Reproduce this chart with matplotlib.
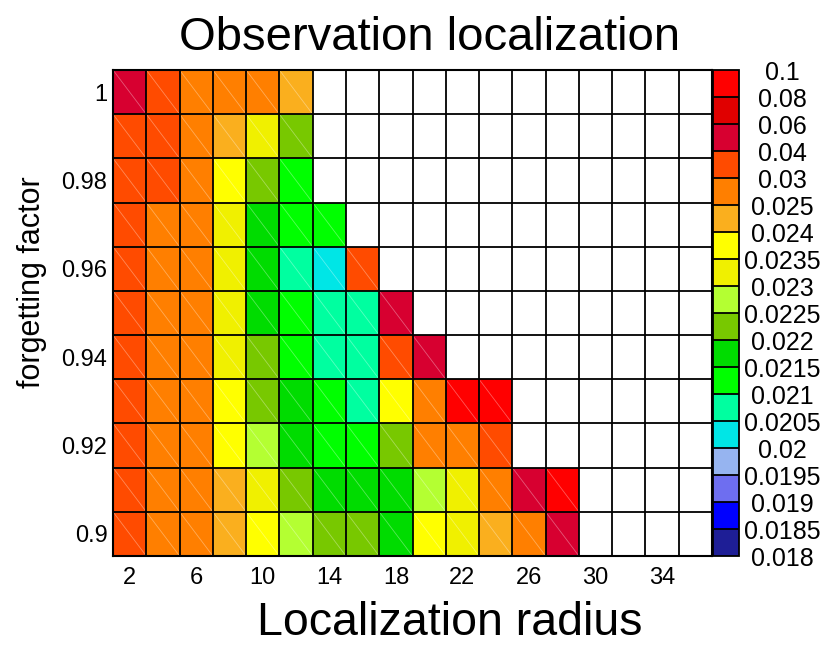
import numpy as np
import matplotlib.pyplot as plt
from matplotlib.colors import ListedColormap, BoundaryNorm

plt.rcParams['font.family'] = ['Liberation Sans', 'DejaVu Sans']

nan = np.nan

# localization radius (columns) and forgetting factor (rows)
radius = [2, 4, 6, 8, 10, 12, 14, 16, 18, 20, 22, 24, 26, 28, 30, 32, 34, 36]
factor = [0.90, 0.91, 0.92, 0.93, 0.94, 0.95, 0.96, 0.97, 0.98, 0.99, 1.00]

# error for each (factor, radius); nan = run diverged / not done
err_090 = [0.035, 0.0275, 0.0275, 0.0245, 0.02375, 0.02275, 0.02225, 0.02225, 0.02175,
           0.02375, 0.02325, 0.0245, 0.0275, 0.05, nan, nan, nan, nan]
err_091 = [0.035, 0.0275, 0.0275, 0.0245, 0.02325, 0.02225, 0.02175, 0.02175, 0.02175,
           0.02275, 0.02325, 0.0275, 0.05, 0.09, nan, nan, nan, nan]
err_092 = [0.035, 0.0275, 0.0275, 0.02375, 0.02275, 0.02175, 0.02125, 0.02125, 0.02225,
           0.0275, 0.0275, 0.035, nan, nan, nan, nan, nan, nan]
err_093 = [0.035, 0.0275, 0.0275, 0.02375, 0.02225, 0.02175, 0.02125, 0.02075, 0.02375,
           0.0275, 0.09, 0.09, nan, nan, nan, nan, nan, nan]
err_094 = [0.035, 0.0275, 0.0275, 0.02325, 0.02225, 0.02125, 0.02075, 0.02075, 0.035,
           0.05, nan, nan, nan, nan, nan, nan, nan, nan]
err_095 = [0.035, 0.0275, 0.0275, 0.02325, 0.02175, 0.02125, 0.02075, 0.02075, 0.05,
           nan, nan, nan, nan, nan, nan, nan, nan, nan]
err_096 = [0.035, 0.0275, 0.0275, 0.02325, 0.02175, 0.02075, 0.02025, 0.035, nan,
           nan, nan, nan, nan, nan, nan, nan, nan, nan]
err_097 = [0.035, 0.0275, 0.0275, 0.02325, 0.02175, 0.02125, 0.02125, nan, nan,
           nan, nan, nan, nan, nan, nan, nan, nan, nan]
err_098 = [0.035, 0.035, 0.0275, 0.02375, 0.02225, 0.02125, nan, nan, nan,
           nan, nan, nan, nan, nan, nan, nan, nan, nan]
err_099 = [0.035, 0.035, 0.0275, 0.0245, 0.02325, 0.02225, nan, nan, nan,
           nan, nan, nan, nan, nan, nan, nan, nan, nan]
err_100 = [0.05, 0.035, 0.0275, 0.0275, 0.0275, 0.0245, nan, nan, nan,
           nan, nan, nan, nan, nan, nan, nan, nan, nan]

levels = [0.018, 0.0185, 0.019, 0.0195, 0.02, 0.0205, 0.021, 0.0215, 0.022, 0.0225,
          0.023, 0.0235, 0.024, 0.025, 0.03, 0.04, 0.06, 0.08, 0.1]
level_labels = ['0.018', '0.0185', '0.019', '0.0195', '0.02', '0.0205', '0.021', '0.0215',
                '0.022', '0.0225', '0.023', '0.0235', '0.024', '0.025', '0.03', '0.04',
                '0.06', '0.08', '0.1']
colors = ['#1e1e96', '#0000ff', '#6e6ef0', '#96b4f0', '#00e6e6', '#00ffa0', '#00ff00',
          '#00dc00', '#78c800', '#b4ff32', '#f0f000', '#ffff00', '#faaf1e', '#ff7f00',
          '#ff4b00', '#d70030', '#e00000', '#ff0000']

Z = np.ma.masked_invalid(np.array([err_090, err_091, err_092, err_093, err_094, err_095,
                                   err_096, err_097, err_098, err_099, err_100]))

cmap = ListedColormap(colors)
cmap.set_bad('white')
norm = BoundaryNorm(levels, cmap.N)

# cell edges
xe = np.append(np.array(radius) - 1, radius[-1] + 1)
ye = np.append(np.array(factor) - 0.005, factor[-1] + 0.005)

fig = plt.figure(figsize=(8.36, 6.46), dpi=100)
ax = fig.add_axes([0.1352, 0.1393, 0.7165, 0.7523])
cax = fig.add_axes([0.8529, 0.1393, 0.0311, 0.7523])

mesh = ax.pcolormesh(xe, ye, Z, cmap=cmap, norm=norm)

# faint seams across each filled cell
for i in range(len(factor)):
    for j in range(len(radius)):
        if not np.ma.is_masked(Z[i, j]):
            ax.plot([xe[j], xe[j + 1]], [ye[i + 1], ye[i]], color='white',
                    lw=0.6, alpha=0.35)

ax.vlines(xe, ye[0], ye[-1], color='black', lw=1.3)
ax.hlines(ye, xe[0], xe[-1], color='black', lw=1.3)
ax.set_xlim(xe[0], xe[-1])
ax.set_ylim(ye[0], ye[-1])

ax.set_xticks(radius[::2])
ax.set_xticklabels([str(r) for r in radius[::2]])
ax.set_yticks(factor[::2])
ax.set_yticklabels(['%g' % f for f in factor[::2]])
ax.tick_params(axis='x', length=0, labelsize=17, pad=8)
ax.tick_params(axis='y', length=0, labelsize=17, pad=4)
for s in ax.spines.values():
    s.set_linewidth(1.5)

cb = fig.colorbar(mesh, cax=cax, boundaries=levels, ticks=levels, drawedges=True)
cb.outline.set_linewidth(1.3)
cb.dividers.set_linewidth(1.3)
cb.ax.set_yticklabels(level_labels)
cb.ax.tick_params(length=0, labelsize=18, pad=31)
for t in cb.ax.get_yticklabels():
    t.set_horizontalalignment('center')

fig.text(0.514, 1 - 50 / 646, 'Observation localization', fontsize=34,
         ha='center', va='baseline')
fig.text(450 / 836, 1 - 635 / 646, 'Localization radius', fontsize=33.5,
         ha='center', va='baseline')
fig.text(32 / 836, 1 - 282 / 646, 'forgetting factor', fontsize=22,
         rotation=90, ha='center', va='center')

fig.savefig('out.png', dpi=100)
